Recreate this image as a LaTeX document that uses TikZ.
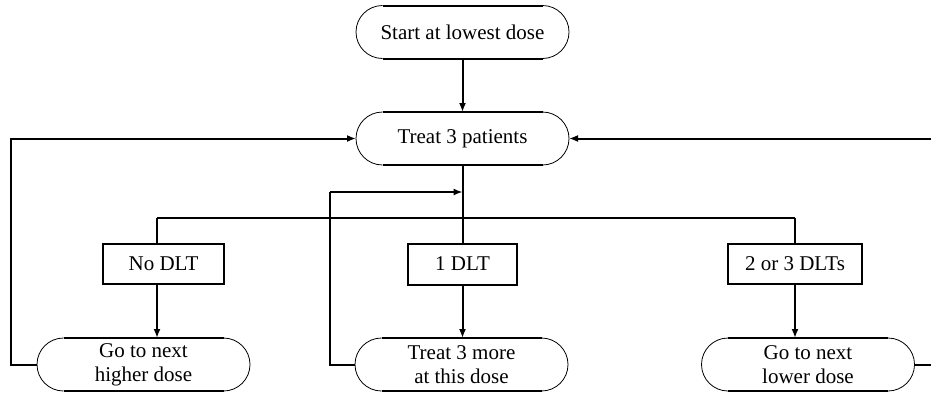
\documentclass[tikz,border=0pt]{standalone}
\usepackage{fontspec}
\setmainfont{Liberation Serif}
\usetikzlibrary{arrows.meta}
\tikzset{
  capsule/.style={minimum width=213pt, minimum height=53pt, inner sep=0pt, outer sep=0pt, align=center,
    font=\fontsize{21}{24}\selectfont},
  outcome/.style={draw, line width=2pt, minimum height=40pt, inner sep=0pt, outer sep=0pt,
    font=\fontsize{21}{24}\selectfont},
  conn/.style={line width=2pt},
  thinconn/.style={line width=1.5pt},
  arr/.style={-{Latex[length=9pt,width=7pt]}},
}
\newcommand{\capsuleframe}[1]{%
  \draw[line width=2pt] ([xshift=26.5pt]#1.north west) -- ([xshift=-26.5pt]#1.north east);
  \draw[line width=2pt] ([xshift=26.5pt]#1.south west) -- ([xshift=-26.5pt]#1.south east);
  \draw[line width=0.8pt] ([xshift=26.5pt]#1.north west) arc[start angle=90,end angle=270,radius=26.5pt];
  \draw[line width=0.8pt] ([xshift=-26.5pt]#1.south east) arc[start angle=-90,end angle=90,radius=26.5pt];
}
\begin{document}
\begin{tikzpicture}[x=1pt,y=-1pt]
\useasboundingbox (0,0) rectangle (931,394);
\fill[white] (0,0) rectangle (931,394);

\node[capsule] (start) at (462.5,32) {Start at lowest dose};
\node[capsule] (treat) at (462.5,138.5) {Treat 3 patients};
\node[capsule] (higher) at (143.5,364.5) {Go to next\\higher dose};
\node[capsule] (more) at (461.5,364.5) {Treat 3 more\\at this dose};
\node[capsule] (lower) at (808,364.5) {Go to next\\lower dose};
\capsuleframe{start}
\capsuleframe{treat}
\capsuleframe{higher}
\capsuleframe{more}
\capsuleframe{lower}

\node[outcome, minimum width=121pt] (nodlt) at (163.5,264) {No DLT};
\node[outcome, minimum width=109pt, minimum height=41pt] (onedlt) at (462.5,264) {1 DLT};
\node[outcome, minimum width=134pt] (twodlt) at (795,264) {2 or 3 DLTs};

\coordinate (bl) at (157,218);
\coordinate (br) at (795,218);
\coordinate (merge) at (462.5,192);
\coordinate (ml) at (330,192);
\coordinate (mlb) at (330,364.5);
\coordinate (hl) at (11,364.5);
\coordinate (ht) at (11,138.5);
\coordinate (rr) at (934,364.5);
\coordinate (rt) at (934,138.5);

\draw[conn,arr] (start.south) -- (treat.north);
\draw[conn] (treat.south) -- (onedlt.north);
\draw[thinconn] (bl) -- (br);
\draw[conn] (bl) -- (bl |- nodlt.north);
\draw[conn] (br) -- (twodlt.north);
\draw[conn,arr] (nodlt.south -| bl) -- (higher.north -| bl);
\draw[conn,arr] (onedlt.south) -- (more.north -| onedlt.south);
\draw[conn,arr] (twodlt.south) -- (lower.north -| twodlt.south);
\draw[conn,arr] (higher.west) -- (hl) -- (ht) -- (treat.west);
\draw[conn,arr] (lower.east) -- (rr) -- (rt) -- (treat.east);
\draw[conn] (more.west) -- (mlb) -- (ml);
\draw[thinconn,arr] (ml) -- (merge);
\end{tikzpicture}
\end{document}
